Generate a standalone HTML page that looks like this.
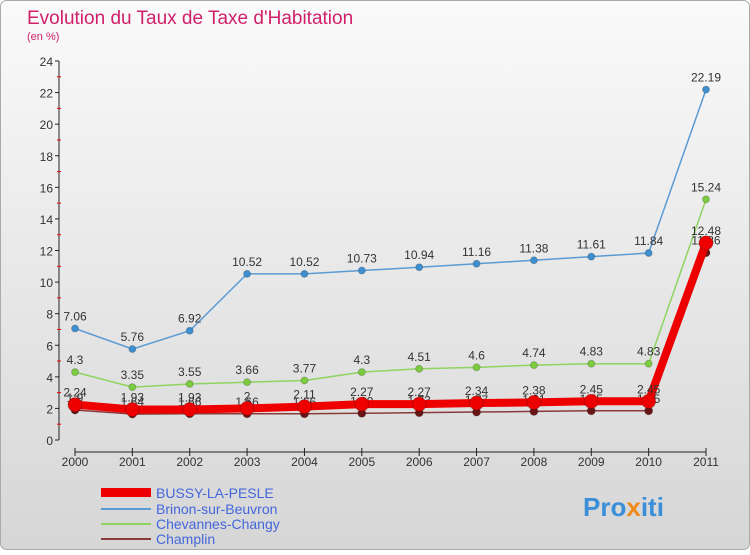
<!DOCTYPE html>
<html><head><meta charset="utf-8"><style>
body{margin:0;width:750px;height:550px;overflow:hidden;font-family:"Liberation Sans",sans-serif}
</style></head><body>
<svg width="750" height="550">
<defs><linearGradient id="bg" x1="0" y1="0" x2="0" y2="1"><stop offset="0" stop-color="#fafafa"/><stop offset="1" stop-color="#d6d6d6"/></linearGradient></defs>
<rect x="0.5" y="0.5" width="749" height="549" rx="6" fill="url(#bg)" stroke="#aaa"/>
<text x="27" y="24" font-size="19" fill="#d0206a">Evolution du Taux de Taxe d'Habitation</text>
<text x="27" y="40" font-size="11" fill="#d0206a">(en %)</text>
<g id="axes"></g><g id="series"></g>
<g>
<rect x="101" y="488" width="50" height="9" fill="#e00"/>
<text x="156" y="498" font-size="14" fill="#4466dd">BUSSY-LA-PESLE</text>
<line x1="101" y1="509" x2="151" y2="509" stroke="#5b9bd5" stroke-width="2"/>
<text x="156" y="514" font-size="14" fill="#4466dd">Brinon-sur-Beuvron</text>
<line x1="101" y1="524" x2="151" y2="524" stroke="#8fd45f" stroke-width="2"/>
<text x="156" y="529" font-size="14" fill="#4466dd">Chevannes-Changy</text>
<line x1="101" y1="539" x2="151" y2="539" stroke="#8a3a3a" stroke-width="2"/>
<text x="156" y="544" font-size="14" fill="#4466dd">Champlin</text>
</g>
<text x="583" y="516" font-size="26" font-weight="bold" fill="#3a8fd8">Pro<tspan fill="#f08a1c">x</tspan>iti</text>
</svg>
<script>
const years=["2000","2001","2002","2003","2004","2005","2006","2007","2008","2009","2010","2011"];
const yTicks=[0,2,4,6,8,10,12,14,16,18,20,22,24];
const bussy=[2.24,1.93,1.93,2,2.11,2.27,2.27,2.34,2.38,2.45,2.45,12.48];
const brinon=[7.06,5.76,6.92,10.52,10.52,10.73,10.94,11.16,11.38,11.61,11.84,22.19];
const chevannes=[4.3,3.35,3.55,3.66,3.77,4.3,4.51,4.6,4.74,4.83,4.83,15.24];
const champlin=[1.9,1.64,1.66,1.66,1.66,1.69,1.73,1.77,1.81,1.85,1.85,11.86];
const NS="http://www.w3.org/2000/svg";
const X=i=>75+i*(631/11), Y=v=>440-v*(379/24);
function mk(t,a,p){const e=document.createElementNS(NS,t);for(const k in a)e.setAttribute(k,a[k]);p.appendChild(e);return e;}
const ax=document.getElementById('axes');
let l=mk('line',{x1:59,y1:Y(0),x2:59,y2:Y(24),stroke:'#222'},ax);


l=mk('line',{x1:X(0),y1:452,x2:X(11),y2:452,stroke:'#222'},ax);


yTicks.forEach(v=>{mk('line',{x1:55,y1:Y(v),x2:59,y2:Y(v),stroke:'#222'},ax);
 if(v<24)mk('line',{x1:57,y1:Y(v+1),x2:61,y2:Y(v+1),stroke:'#e00'},ax);
 const t=mk('text',{x:53,y:Y(v)+5,'font-size':12,'text-anchor':'end',fill:'#333'},ax);t.textContent=v;
 
 });
years.forEach((y,i)=>{mk('line',{x1:X(i),y1:448,x2:X(i),y2:456,stroke:'#222'},ax);
 const t=mk('text',{x:X(i),y:466,'font-size':12,'text-anchor':'middle',fill:'#333'},ax);t.textContent=y;
 
 });
const sg=document.getElementById('series');
function series(d,col,dot,w,r,name){
 const g=mk('g',{},sg);
 
 
 mk('polyline',{points:d.map((v,i)=>X(i)+','+Y(v)).join(' '),fill:'none',stroke:col,'stroke-width':w},g);
 d.forEach((v,i)=>{mk('circle',{cx:X(i),cy:Y(v),r:r,fill:dot,stroke:'#0003'},g);
  const t=mk('text',{x:X(i),y:Y(v)-8,'font-size':12,'text-anchor':'middle',fill:'#333'},g);t.textContent=v;});
}
series(brinon,'#5b9bd5','#3d8fd0',1.5,3.5,'series-brinon');
series(chevannes,'#8fd45f','#7ccc3f',1.5,3.5,'series-chevannes');
series(champlin,'#8a3a3a','#6a1515',1.5,4,'series-champlin');
series(bussy,'#ee0000','#ee0000',8,7,'series-bussy');
</script>
</body></html>
